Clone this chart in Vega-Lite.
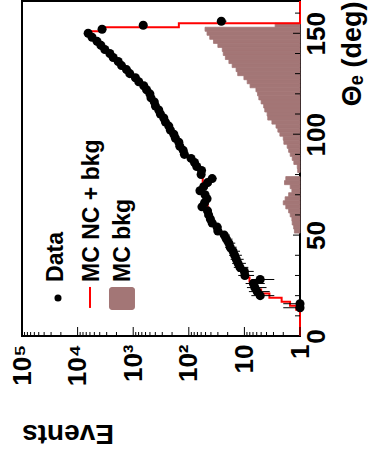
{
  "$schema": "https://vega.github.io/schema/vega-lite/v6.json",
  "width": 278,
  "height": 335,
  "autosize": {"type": "none"},
  "padding": {"left": 22, "top": 1, "right": 70, "bottom": 119},
  "background": "white",
  "config": {
    "view": {"stroke": "black", "strokeWidth": 2},
    "font": "Liberation Sans",
    "axis": {"grid": false, "domain": false}
  },
  "datasets": {
    "pts": [
      {"th": 156, "ev": 26, "elo": 21, "ehi": 31},
      {"th": 154, "ev": 660, "elo": 634, "ehi": 686},
      {"th": 152, "ev": 3630, "elo": 3570, "ehi": 3690},
      {"th": 150, "ev": 6460, "elo": 6380, "ehi": 6540},
      {"th": 148, "ev": 5500, "elo": 5426, "ehi": 5574},
      {"th": 146, "ev": 4470, "elo": 4403, "ehi": 4537},
      {"th": 144, "ev": 3800, "elo": 3738, "ehi": 3862},
      {"th": 142, "ev": 3240, "elo": 3183, "ehi": 3297},
      {"th": 140, "ev": 2630, "elo": 2579, "ehi": 2681},
      {"th": 138, "ev": 2290, "elo": 2242, "ehi": 2338},
      {"th": 136, "ev": 1860, "elo": 1817, "ehi": 1903},
      {"th": 134, "ev": 1620, "elo": 1580, "ehi": 1660},
      {"th": 132, "ev": 1320, "elo": 1284, "ehi": 1356},
      {"th": 130, "ev": 1150, "elo": 1116, "ehi": 1184},
      {"th": 128, "ev": 912, "elo": 882, "ehi": 942},
      {"th": 126, "ev": 794, "elo": 766, "ehi": 822},
      {"th": 124, "ev": 646, "elo": 621, "ehi": 671},
      {"th": 122, "ev": 575, "elo": 551, "ehi": 599},
      {"th": 120, "ev": 501, "elo": 479, "ehi": 523},
      {"th": 118, "ev": 479, "elo": 457, "ehi": 501},
      {"th": 116, "ev": 417, "elo": 397, "ehi": 437},
      {"th": 114, "ev": 398, "elo": 378, "ehi": 418},
      {"th": 112, "ev": 347, "elo": 328, "ehi": 366},
      {"th": 110, "ev": 324, "elo": 306, "ehi": 342},
      {"th": 108, "ev": 282, "elo": 265, "ehi": 299},
      {"th": 106, "ev": 263, "elo": 247, "ehi": 279},
      {"th": 104, "ev": 229, "elo": 214, "ehi": 244},
      {"th": 102, "ev": 214, "elo": 199, "ehi": 229},
      {"th": 100, "ev": 186, "elo": 172, "ehi": 200},
      {"th": 98, "ev": 174, "elo": 161, "ehi": 187},
      {"th": 96, "ev": 151, "elo": 139, "ehi": 163},
      {"th": 94, "ev": 145, "elo": 133, "ehi": 157},
      {"th": 92, "ev": 126, "elo": 115, "ehi": 137},
      {"th": 90, "ev": 120, "elo": 109, "ehi": 131},
      {"th": 88, "ev": 91, "elo": 81.5, "ehi": 100.5},
      {"th": 86, "ev": 79, "elo": 70, "ehi": 88},
      {"th": 84, "ev": 72, "elo": 63.5, "ehi": 80.5},
      {"th": 82, "ev": 59, "elo": 51.3, "ehi": 66.7},
      {"th": 80, "ev": 60, "elo": 52.3, "ehi": 67.7},
      {"th": 78, "ev": 38, "elo": 31.8, "ehi": 44.2},
      {"th": 76, "ev": 46, "elo": 39.2, "ehi": 52.8},
      {"th": 74, "ev": 54, "elo": 46.7, "ehi": 61.3},
      {"th": 72, "ev": 63, "elo": 55.1, "ehi": 70.9},
      {"th": 70, "ev": 51, "elo": 43.9, "ehi": 58.1},
      {"th": 68, "ev": 47, "elo": 40.1, "ehi": 53.9},
      {"th": 66, "ev": 52, "elo": 44.8, "ehi": 59.2},
      {"th": 64, "ev": 58, "elo": 50.4, "ehi": 65.6},
      {"th": 62, "ev": 46, "elo": 39.2, "ehi": 52.8},
      {"th": 60, "ev": 44, "elo": 37.4, "ehi": 50.6},
      {"th": 58, "ev": 41, "elo": 34.6, "ehi": 47.4},
      {"th": 56, "ev": 38, "elo": 31.8, "ehi": 44.2},
      {"th": 54, "ev": 31, "elo": 25.4, "ehi": 36.6},
      {"th": 52, "ev": 30, "elo": 24.5, "ehi": 35.5},
      {"th": 50, "ev": 23, "elo": 18.2, "ehi": 27.8},
      {"th": 48, "ev": 21, "elo": 16.4, "ehi": 25.6},
      {"th": 46, "ev": 19, "elo": 14.6, "ehi": 23.4},
      {"th": 44, "ev": 18, "elo": 13.8, "ehi": 22.2},
      {"th": 42, "ev": 16, "elo": 12, "ehi": 20},
      {"th": 40, "ev": 15, "elo": 11.1, "ehi": 18.9},
      {"th": 38, "ev": 14, "elo": 10.3, "ehi": 17.7},
      {"th": 36, "ev": 13, "elo": 9.4, "ehi": 16.6},
      {"th": 34, "ev": 12, "elo": 8.5, "ehi": 15.5},
      {"th": 32, "ev": 10, "elo": 6.8, "ehi": 13.2},
      {"th": 30, "ev": 9.8, "elo": 6.7, "ehi": 12.9},
      {"th": 28, "ev": 5.2, "elo": 2.9, "ehi": 7.5},
      {"th": 26, "ev": 6.9, "elo": 4.3, "ehi": 9.5},
      {"th": 24, "ev": 6.5, "elo": 4, "ehi": 9},
      {"th": 22, "ev": 5.9, "elo": 3.5, "ehi": 8.3},
      {"th": 20, "ev": 5.2, "elo": 2.9, "ehi": 7.5},
      {"th": 16, "ev": 1, "elo": 0.001, "ehi": 2},
      {"th": 14, "ev": 1, "elo": 0.001, "ehi": 2}
    ],
    "mc": [
      {"lo": 0, "ev": 0.5}, {"lo": 13, "ev": 1.17}, {"lo": 15, "ev": 1.51}, {"lo": 17, "ev": 2.14},
      {"lo": 19, "ev": 3.55}, {"lo": 21, "ev": 5.0}, {"lo": 23, "ev": 6.3}, {"lo": 25, "ev": 7.2},
      {"lo": 27, "ev": 8.1}, {"lo": 29, "ev": 9.1}, {"lo": 31, "ev": 10.2}, {"lo": 33, "ev": 11.5},
      {"lo": 35, "ev": 12.6}, {"lo": 37, "ev": 13.8}, {"lo": 39, "ev": 14.8}, {"lo": 41, "ev": 15.8},
      {"lo": 43, "ev": 17.4}, {"lo": 45, "ev": 19.1}, {"lo": 47, "ev": 20.9}, {"lo": 49, "ev": 24.0},
      {"lo": 51, "ev": 28.2}, {"lo": 53, "ev": 31.6}, {"lo": 55, "ev": 36.3}, {"lo": 57, "ev": 39.8},
      {"lo": 59, "ev": 42.7}, {"lo": 61, "ev": 44.7}, {"lo": 63, "ev": 45.7}, {"lo": 65, "ev": 47.9},
      {"lo": 67, "ev": 50.1}, {"lo": 69, "ev": 53.7}, {"lo": 71, "ev": 56.2}, {"lo": 73, "ev": 57.5},
      {"lo": 75, "ev": 56.2}, {"lo": 77, "ev": 56.2}, {"lo": 79, "ev": 57.5}, {"lo": 81, "ev": 61.7},
      {"lo": 83, "ev": 69.2}, {"lo": 85, "ev": 77.6}, {"lo": 87, "ev": 95.5}, {"lo": 89, "ev": 115},
      {"lo": 91, "ev": 132}, {"lo": 93, "ev": 141}, {"lo": 95, "ev": 155}, {"lo": 97, "ev": 170},
      {"lo": 99, "ev": 191}, {"lo": 101, "ev": 209}, {"lo": 103, "ev": 234}, {"lo": 105, "ev": 257},
      {"lo": 107, "ev": 288}, {"lo": 109, "ev": 316}, {"lo": 111, "ev": 355}, {"lo": 113, "ev": 389},
      {"lo": 115, "ev": 427}, {"lo": 117, "ev": 468}, {"lo": 119, "ev": 513}, {"lo": 121, "ev": 562},
      {"lo": 123, "ev": 661}, {"lo": 125, "ev": 776}, {"lo": 127, "ev": 933}, {"lo": 129, "ev": 1122},
      {"lo": 131, "ev": 1349}, {"lo": 133, "ev": 1585}, {"lo": 135, "ev": 1905}, {"lo": 137, "ev": 2239},
      {"lo": 139, "ev": 2692}, {"lo": 141, "ev": 3162}, {"lo": 143, "ev": 3802}, {"lo": 145, "ev": 4571},
      {"lo": 147, "ev": 5370}, {"lo": 149, "ev": 6166}, {"lo": 151, "ev": 3890}, {"lo": 153, "ev": 151},
      {"lo": 155, "ev": 0.5}, {"lo": 166, "ev": 0.5}
    ],
    "bkg": [
      {"lo": 153, "hi": 155, "ev": 2.8}, {"lo": 151, "hi": 153, "ev": 51}, {"lo": 149, "hi": 151, "ev": 47},
      {"lo": 147, "hi": 149, "ev": 42}, {"lo": 145, "hi": 147, "ev": 36}, {"lo": 143, "hi": 145, "ev": 30},
      {"lo": 141, "hi": 143, "ev": 25}, {"lo": 139, "hi": 141, "ev": 24}, {"lo": 137, "hi": 139, "ev": 22},
      {"lo": 135, "hi": 137, "ev": 19}, {"lo": 133, "hi": 135, "ev": 16.6}, {"lo": 131, "hi": 133, "ev": 14.1},
      {"lo": 129, "hi": 131, "ev": 13.2}, {"lo": 127, "hi": 129, "ev": 10.2}, {"lo": 125, "hi": 127, "ev": 8.9},
      {"lo": 123, "hi": 125, "ev": 7.9}, {"lo": 121, "hi": 123, "ev": 6.2}, {"lo": 119, "hi": 121, "ev": 5.8},
      {"lo": 117, "hi": 119, "ev": 5.5}, {"lo": 115, "hi": 117, "ev": 5.0}, {"lo": 113, "hi": 115, "ev": 4.5},
      {"lo": 111, "hi": 113, "ev": 4.3}, {"lo": 109, "hi": 111, "ev": 3.9}, {"lo": 107, "hi": 109, "ev": 3.8},
      {"lo": 105, "hi": 107, "ev": 3.2}, {"lo": 103, "hi": 105, "ev": 2.7}, {"lo": 101, "hi": 103, "ev": 2.5},
      {"lo": 99, "hi": 101, "ev": 2.3}, {"lo": 97, "hi": 99, "ev": 2.0}, {"lo": 95, "hi": 97, "ev": 1.95},
      {"lo": 93, "hi": 95, "ev": 1.7}, {"lo": 91, "hi": 93, "ev": 1.6}, {"lo": 89, "hi": 91, "ev": 1.5},
      {"lo": 87, "hi": 89, "ev": 1.38}, {"lo": 85, "hi": 87, "ev": 1.29}, {"lo": 83, "hi": 85, "ev": 1.12},
      {"lo": 81, "hi": 83, "ev": 1.1}, {"lo": 77, "hi": 79, "ev": 1.8}, {"lo": 75, "hi": 77, "ev": 1.9},
      {"lo": 73, "hi": 75, "ev": 1.5}, {"lo": 71, "hi": 73, "ev": 1.4}, {"lo": 69, "hi": 71, "ev": 1.6},
      {"lo": 67, "hi": 69, "ev": 1.85}, {"lo": 65, "hi": 67, "ev": 2.0}, {"lo": 63, "hi": 65, "ev": 1.8},
      {"lo": 61, "hi": 63, "ev": 1.6}, {"lo": 59, "hi": 61, "ev": 1.5}, {"lo": 57, "hi": 59, "ev": 1.4},
      {"lo": 55, "hi": 57, "ev": 1.38}, {"lo": 53, "hi": 55, "ev": 1.3}, {"lo": 51, "hi": 53, "ev": 1.26}
    ],
    "xmaj": [{"v": 1}, {"v": 10}, {"v": 100}, {"v": 1000}, {"v": 10000}],
    "xmin": [
      {"v": 2}, {"v": 3}, {"v": 4}, {"v": 5}, {"v": 6}, {"v": 7}, {"v": 8}, {"v": 9},
      {"v": 20}, {"v": 30}, {"v": 40}, {"v": 50}, {"v": 60}, {"v": 70}, {"v": 80}, {"v": 90},
      {"v": 200}, {"v": 300}, {"v": 400}, {"v": 500}, {"v": 600}, {"v": 700}, {"v": 800}, {"v": 900},
      {"v": 2000}, {"v": 3000}, {"v": 4000}, {"v": 5000}, {"v": 6000}, {"v": 7000}, {"v": 8000}, {"v": 9000},
      {"v": 20000}, {"v": 30000}, {"v": 40000}, {"v": 50000}, {"v": 60000}, {"v": 70000}, {"v": 80000}, {"v": 90000}
    ],
    "ymaj": [{"v": 50}, {"v": 100}, {"v": 150}],
    "ymin": [
      {"v": 10}, {"v": 20}, {"v": 30}, {"v": 40}, {"v": 60}, {"v": 70}, {"v": 80}, {"v": 90},
      {"v": 110}, {"v": 120}, {"v": 130}, {"v": 140}, {"v": 160}
    ],
    "legData": [{"label": "Data"}],
    "legMC": [{"label": "MC NC + bkg"}],
    "legBkg": [{"label": "MC bkg"}]
  },
  "layer": [
    {
      "data": {"name": "bkg"},
      "mark": {"type": "rect", "fill": "#a37676", "stroke": "#a37676", "strokeWidth": 0.8},
      "encoding": {
        "x": {
          "field": "ev", "type": "quantitative",
          "scale": {"type": "log", "domain": [1, 100000], "reverse": true, "clamp": true},
          "axis": {
            "orient": "bottom", "values": [1, 10, 100, 1000, 10000, 100000],
            "ticks": false, "domain": false, "grid": false,
            "labelExpr": "datum.value < 5 ? '1' : datum.value < 50 ? '10' : datum.value < 500 ? '10²' : datum.value < 5000 ? '10³' : datum.value < 50000 ? '10⁴' : '10⁵'",
            "labelAngle": 270, "labelAlign": "right", "labelBaseline": "middle", "labelPadding": 8,
            "labelFont": "Liberation Sans", "labelFontWeight": "bold", "labelFontSize": 26, "labelColor": "black",
            "labelOverlap": false, "labelFlush": false, "labelBound": false,
            "title": "Events", "titleFont": "Liberation Sans", "titleFontWeight": "bold", "titleFontSize": 28,
            "titleColor": "black", "titleAngle": 180, "titleAlign": "center", "titleBaseline": "middle",
            "titleX": 45.5, "titleY": 96
          }
        },
        "x2": {"datum": 1},
        "y": {
          "field": "lo", "type": "quantitative",
          "scale": {"domain": [0, 166], "clamp": true, "nice": false},
          "axis": {
            "orient": "right", "values": [0, 50, 100, 150],
            "ticks": false, "domain": false, "grid": false,
            "labelAngle": 270, "labelAlign": "center", "labelBaseline": "middle", "labelPadding": 16,
            "labelFont": "Liberation Sans", "labelFontWeight": "bold", "labelFontSize": 26, "labelColor": "black",
            "labelOverlap": false, "labelFlush": false, "labelBound": false,
            "title": "Θₑ (deg)", "titleFont": "Liberation Sans", "titleFontWeight": "bold", "titleFontSize": 27,
            "titleColor": "black", "titleAngle": 270, "titleAlign": "right", "titleBaseline": "middle",
            "titleX": 52, "titleY": 0
          }
        },
        "y2": {"field": "hi"}
      }
    },
    {
      "data": {"name": "mc"},
      "mark": {"type": "line", "interpolate": "step-before", "strokeWidth": 2, "color": "#ff0000"},
      "encoding": {
        "x": {"field": "ev", "type": "quantitative", "scale": {"type": "log", "domain": [1, 100000], "reverse": true, "clamp": true}, "axis": null},
        "y": {"field": "lo", "type": "quantitative", "scale": {"domain": [0, 166], "clamp": true, "nice": false}, "axis": null},
        "order": {"field": "lo", "type": "quantitative"}
      }
    },
    {
      "data": {"name": "pts"},
      "mark": {"type": "rule", "color": "black", "strokeWidth": 1},
      "encoding": {
        "x": {"field": "elo", "type": "quantitative", "scale": {"type": "log", "domain": [1, 100000], "reverse": true, "clamp": true}, "axis": null},
        "x2": {"field": "ehi"},
        "y": {"field": "th", "type": "quantitative", "scale": {"domain": [0, 166], "clamp": true, "nice": false}, "axis": null}
      }
    },
    {
      "data": {"name": "pts"},
      "mark": {"type": "point", "filled": true, "shape": "circle", "color": "black", "opacity": 1, "size": 82},
      "encoding": {
        "x": {"field": "ev", "type": "quantitative", "scale": {"type": "log", "domain": [1, 100000], "reverse": true, "clamp": true}, "axis": null},
        "y": {"field": "th", "type": "quantitative", "scale": {"domain": [0, 166], "clamp": true, "nice": false}, "axis": null}
      }
    },
    {
      "data": {"name": "xmaj"},
      "mark": {"type": "tick", "orient": "vertical", "color": "black", "thickness": 1, "size": 9, "yOffset": -4.5, "opacity": 1},
      "encoding": {
        "x": {"field": "v", "type": "quantitative", "scale": {"type": "log", "domain": [1, 100000], "reverse": true, "clamp": true}, "axis": null},
        "y": {"datum": 0, "type": "quantitative", "scale": {"domain": [0, 166], "clamp": true, "nice": false}, "axis": null}
      }
    },
    {
      "data": {"name": "xmin"},
      "mark": {"type": "tick", "orient": "vertical", "color": "black", "thickness": 1, "size": 4, "yOffset": -2, "opacity": 1},
      "encoding": {
        "x": {"field": "v", "type": "quantitative", "scale": {"type": "log", "domain": [1, 100000], "reverse": true, "clamp": true}, "axis": null},
        "y": {"datum": 0, "type": "quantitative", "scale": {"domain": [0, 166], "clamp": true, "nice": false}, "axis": null}
      }
    },
    {
      "data": {"name": "ymaj"},
      "mark": {"type": "tick", "orient": "horizontal", "color": "black", "thickness": 1, "size": 7, "xOffset": -3.5, "opacity": 1},
      "encoding": {
        "y": {"field": "v", "type": "quantitative", "scale": {"domain": [0, 166], "clamp": true, "nice": false}, "axis": null},
        "x": {"datum": 1, "type": "quantitative", "scale": {"type": "log", "domain": [1, 100000], "reverse": true, "clamp": true}, "axis": null}
      }
    },
    {
      "data": {"name": "ymin"},
      "mark": {"type": "tick", "orient": "horizontal", "color": "black", "thickness": 1, "size": 5, "xOffset": -2.5, "opacity": 1},
      "encoding": {
        "y": {"field": "v", "type": "quantitative", "scale": {"domain": [0, 166], "clamp": true, "nice": false}, "axis": null},
        "x": {"datum": 1, "type": "quantitative", "scale": {"type": "log", "domain": [1, 100000], "reverse": true, "clamp": true}, "axis": null}
      }
    },
    {
      "data": {"name": "legData"},
      "mark": {"type": "point", "filled": true, "shape": "circle", "color": "black", "opacity": 1, "size": 50},
      "encoding": {
        "x": {"datum": 22520, "type": "quantitative", "scale": {"type": "log", "domain": [1, 100000], "reverse": true, "clamp": true}, "axis": null},
        "y": {"datum": 18.8, "type": "quantitative", "scale": {"domain": [0, 166], "clamp": true, "nice": false}, "axis": null}
      }
    },
    {
      "data": {"name": "legData"},
      "mark": {"type": "text", "angle": 270, "align": "left", "baseline": "alphabetic", "font": "Liberation Sans", "fontWeight": "bold", "fontSize": 23, "color": "black"},
      "encoding": {
        "text": {"field": "label"},
        "x": {"datum": 18310, "type": "quantitative", "scale": {"type": "log", "domain": [1, 100000], "reverse": true, "clamp": true}, "axis": null},
        "y": {"datum": 26.8, "type": "quantitative", "scale": {"domain": [0, 166], "clamp": true, "nice": false}, "axis": null}
      }
    },
    {
      "data": {"name": "legMC"},
      "mark": {"type": "rule", "color": "#ff0000", "strokeWidth": 2},
      "encoding": {
        "x": {"datum": 5984, "type": "quantitative", "scale": {"type": "log", "domain": [1, 100000], "reverse": true, "clamp": true}, "axis": null},
        "y": {"datum": 24.3, "type": "quantitative", "scale": {"domain": [0, 166], "clamp": true, "nice": false}, "axis": null},
        "y2": {"datum": 13.9}
      }
    },
    {
      "data": {"name": "legMC"},
      "mark": {"type": "text", "angle": 270, "align": "left", "baseline": "alphabetic", "font": "Liberation Sans", "fontWeight": "bold", "fontSize": 23, "color": "black"},
      "encoding": {
        "text": {"field": "label"},
        "x": {"datum": 4122, "type": "quantitative", "scale": {"type": "log", "domain": [1, 100000], "reverse": true, "clamp": true}, "axis": null},
        "y": {"datum": 26.8, "type": "quantitative", "scale": {"domain": [0, 166], "clamp": true, "nice": false}, "axis": null}
      }
    },
    {
      "data": {"name": "legBkg"},
      "mark": {"type": "rect", "color": "#a37676", "cornerRadius": 3},
      "encoding": {
        "x": {"datum": 2725, "type": "quantitative", "scale": {"type": "log", "domain": [1, 100000], "reverse": true, "clamp": true}, "axis": null},
        "x2": {"datum": 929},
        "y": {"datum": 24.3, "type": "quantitative", "scale": {"domain": [0, 166], "clamp": true, "nice": false}, "axis": null},
        "y2": {"datum": 12.9}
      }
    },
    {
      "data": {"name": "legBkg"},
      "mark": {"type": "text", "angle": 270, "align": "left", "baseline": "alphabetic", "font": "Liberation Sans", "fontWeight": "bold", "fontSize": 23, "color": "black"},
      "encoding": {
        "text": {"field": "label"},
        "x": {"datum": 1142, "type": "quantitative", "scale": {"type": "log", "domain": [1, 100000], "reverse": true, "clamp": true}, "axis": null},
        "y": {"datum": 26.8, "type": "quantitative", "scale": {"domain": [0, 166], "clamp": true, "nice": false}, "axis": null}
      }
    }
  ],
  "resolve": {"axis": {"x": "independent", "y": "independent"}}
}
